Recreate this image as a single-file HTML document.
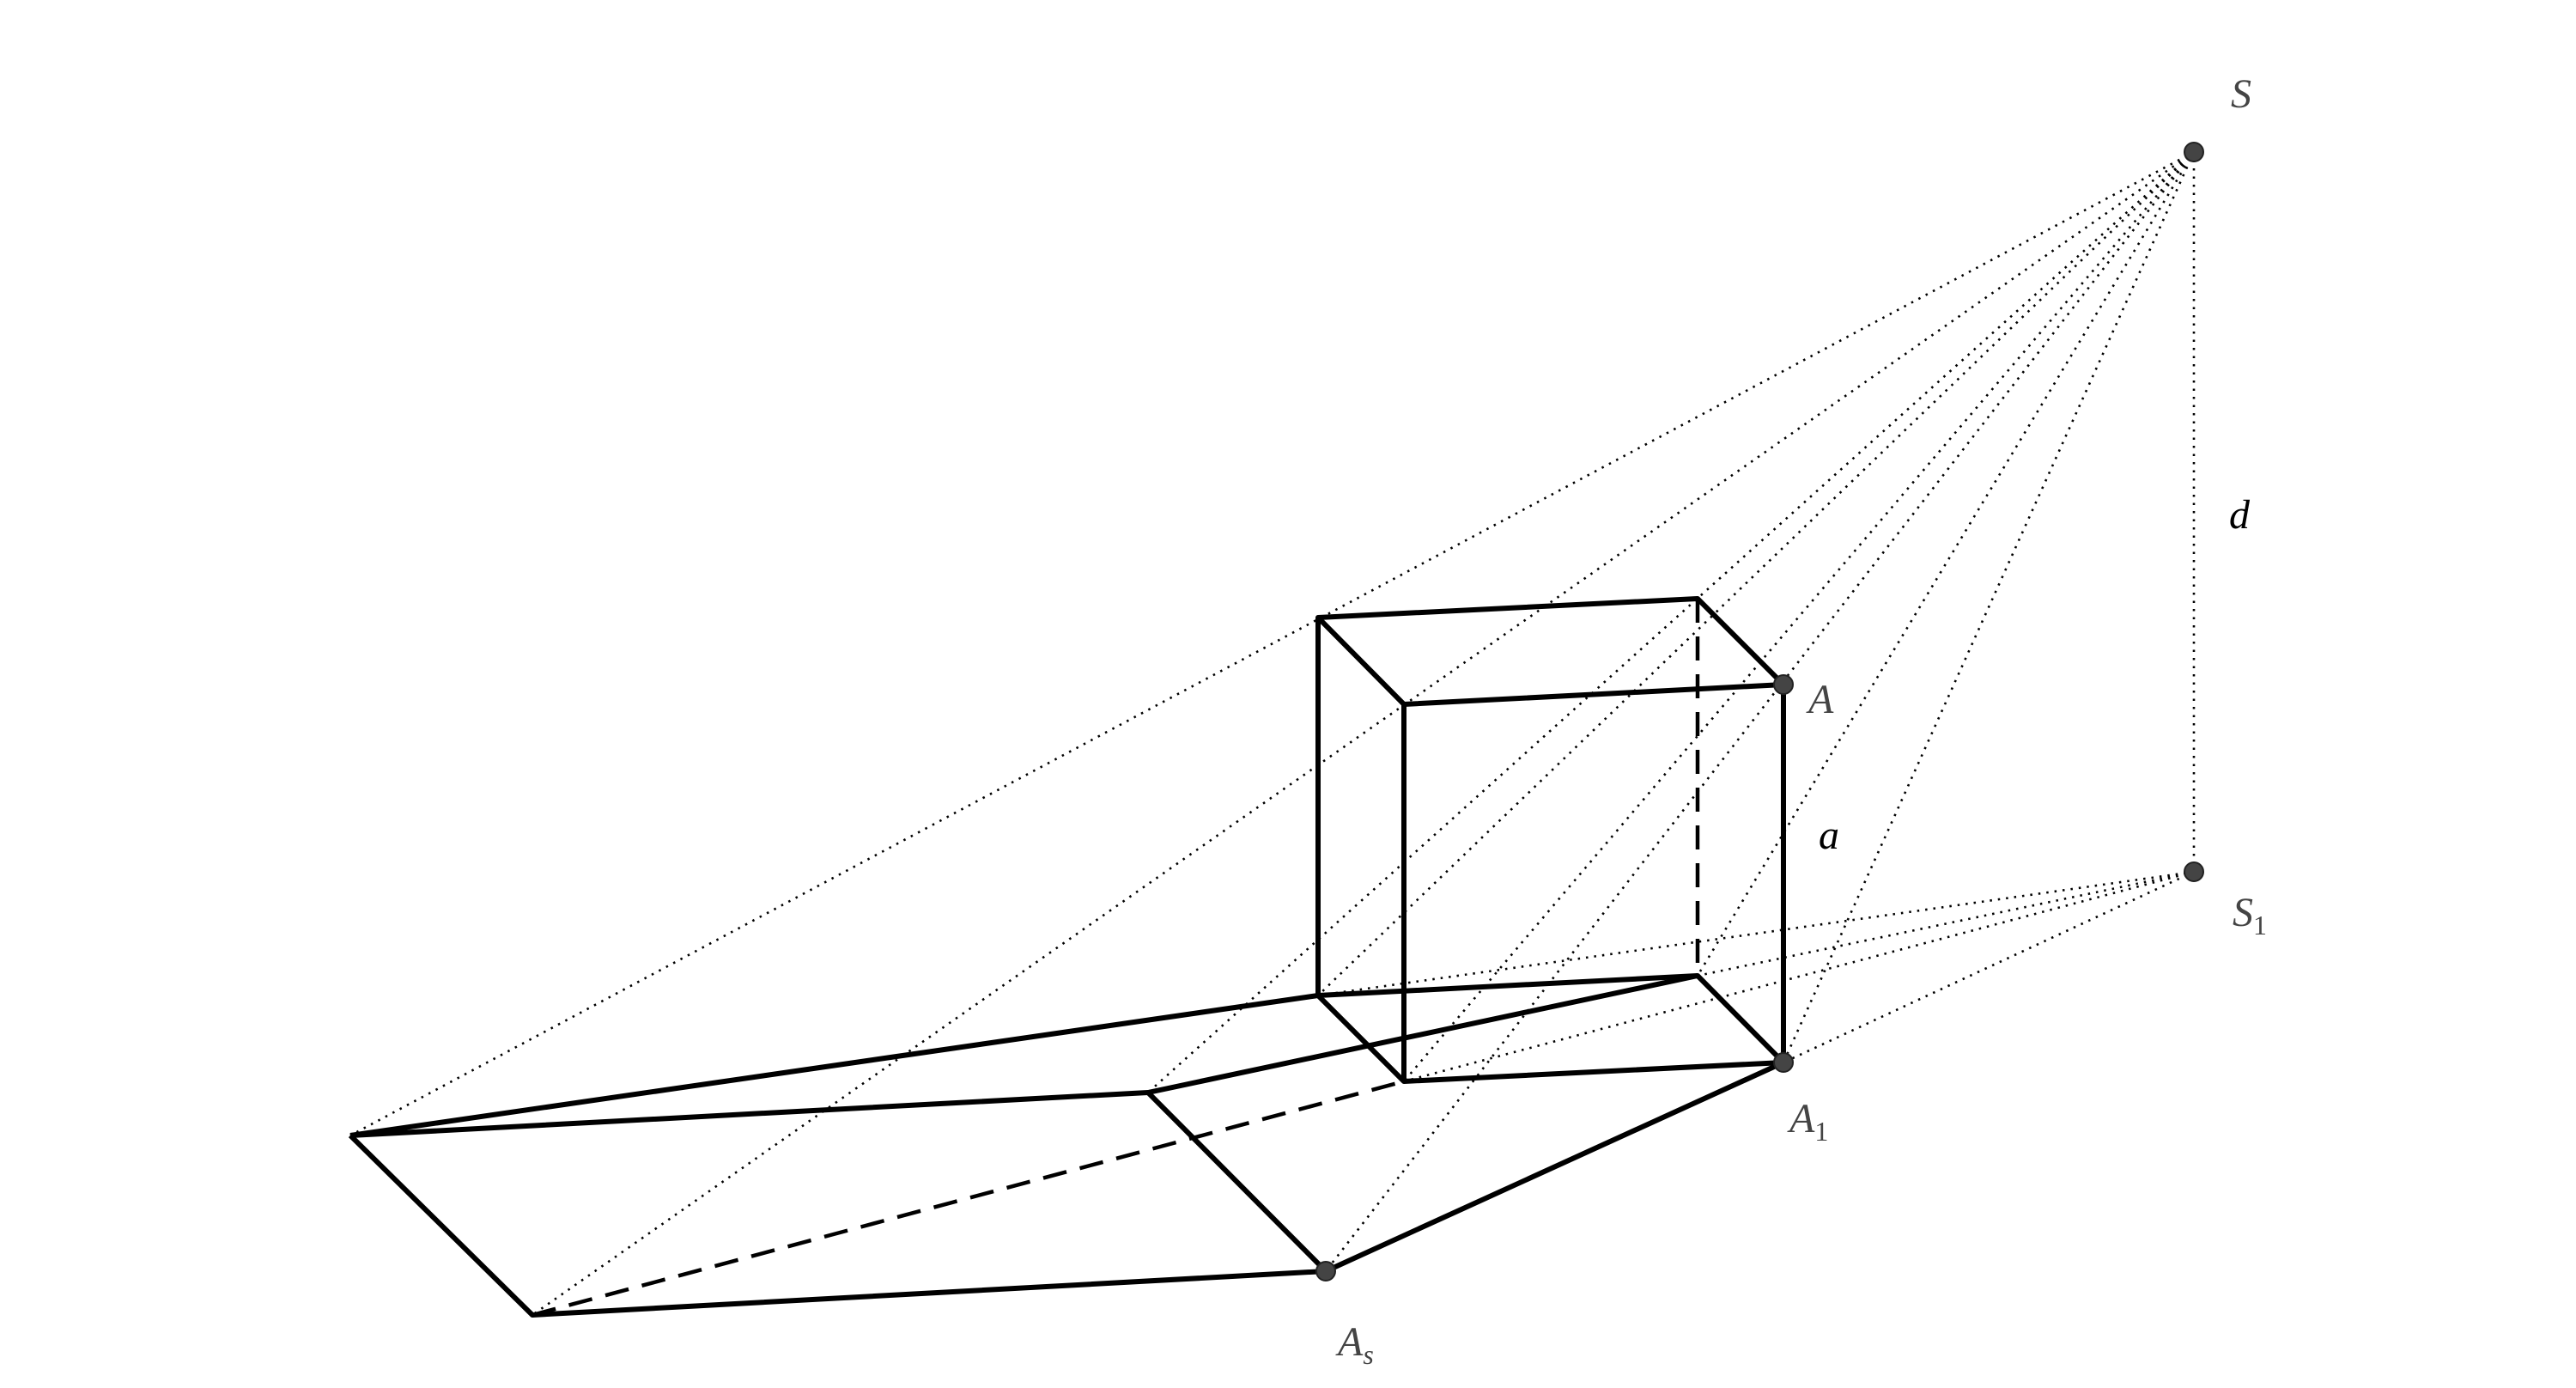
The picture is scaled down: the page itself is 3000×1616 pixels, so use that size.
<!DOCTYPE html>
<html><head><style>body{margin:0;background:#fff}svg{display:block}</style></head><body>
<svg width="3000" height="1616" xmlns="http://www.w3.org/2000/svg">
<g stroke="#000" stroke-width="2.6" stroke-dasharray="2.5,7" fill="none">
<line x1="2555" y1="177" x2="408" y2="1322"/>
<line x1="2555" y1="177" x2="620" y2="1531"/>
<line x1="2555" y1="177" x2="1337" y2="1272"/>
<line x1="2555" y1="177" x2="1544" y2="1480"/>
<line x1="2555" y1="177" x2="2077" y2="1237"/>
<line x1="2555" y1="177" x2="1535" y2="1159"/>
<line x1="2555" y1="177" x2="1977" y2="1136"/>
<line x1="2555" y1="177" x2="1635" y2="1259"/>
<line x1="2555" y1="177" x2="2555" y2="1015"/>
<line x1="2555" y1="1015" x2="1535" y2="1159"/>
<line x1="2555" y1="1015" x2="1977" y2="1136"/>
<line x1="2555" y1="1015" x2="1635" y2="1259"/>
<line x1="2555" y1="1015" x2="2077" y2="1237"/>
</g>
<g stroke="#000" stroke-width="6" fill="none" stroke-linejoin="round">
<polygon points="1535,719 1977,697 2077,797 1635,820"/>
<line x1="1535" y1="719" x2="1535" y2="1159"/>
<line x1="1635" y1="820" x2="1635" y2="1259"/>
<line x1="2077" y1="797" x2="2077" y2="1237"/>
<polyline points="1535,1159 1977,1136 2077,1237 1635,1259 1535,1159"/>
<line x1="408" y1="1322" x2="1535" y2="1159"/>
<polyline points="408,1322 1337,1272 1977,1136"/>
<polyline points="408,1322 620,1531 1544,1480 2077,1237"/>
<line x1="1337" y1="1272" x2="1544" y2="1480"/>
<line x1="1977" y1="697" x2="1977" y2="1136" stroke-width="4.5" stroke-dasharray="28,16"/>
<line x1="620" y1="1531" x2="1635" y2="1259" stroke-width="4.5" stroke-dasharray="28,16"/>
</g>
<g fill="#444" stroke="#222" stroke-width="2">
<circle cx="2555" cy="177" r="11"/><circle cx="2555" cy="1015" r="11"/>
<circle cx="2077" cy="797" r="11"/><circle cx="2077" cy="1237" r="11"/>
<circle cx="1544" cy="1480" r="11"/>
</g>
<g font-family="'Liberation Serif', serif" font-style="italic" font-size="48" fill="#444">
<text x="2598" y="125">S</text>
<text x="2596" y="615" fill="#000">d</text>
<text x="2600" y="1078">S<tspan font-size="32" dy="10" font-style="normal">1</tspan></text>
<text x="2106" y="830">A</text>
<text x="2118" y="988" fill="#000">a</text>
<text x="2084" y="1318">A<tspan font-size="32" dy="10" font-style="normal">1</tspan></text>
<text x="1558" y="1578">A<tspan font-size="32" dy="10">s</tspan></text>
</g>
</svg>
</body></html>
